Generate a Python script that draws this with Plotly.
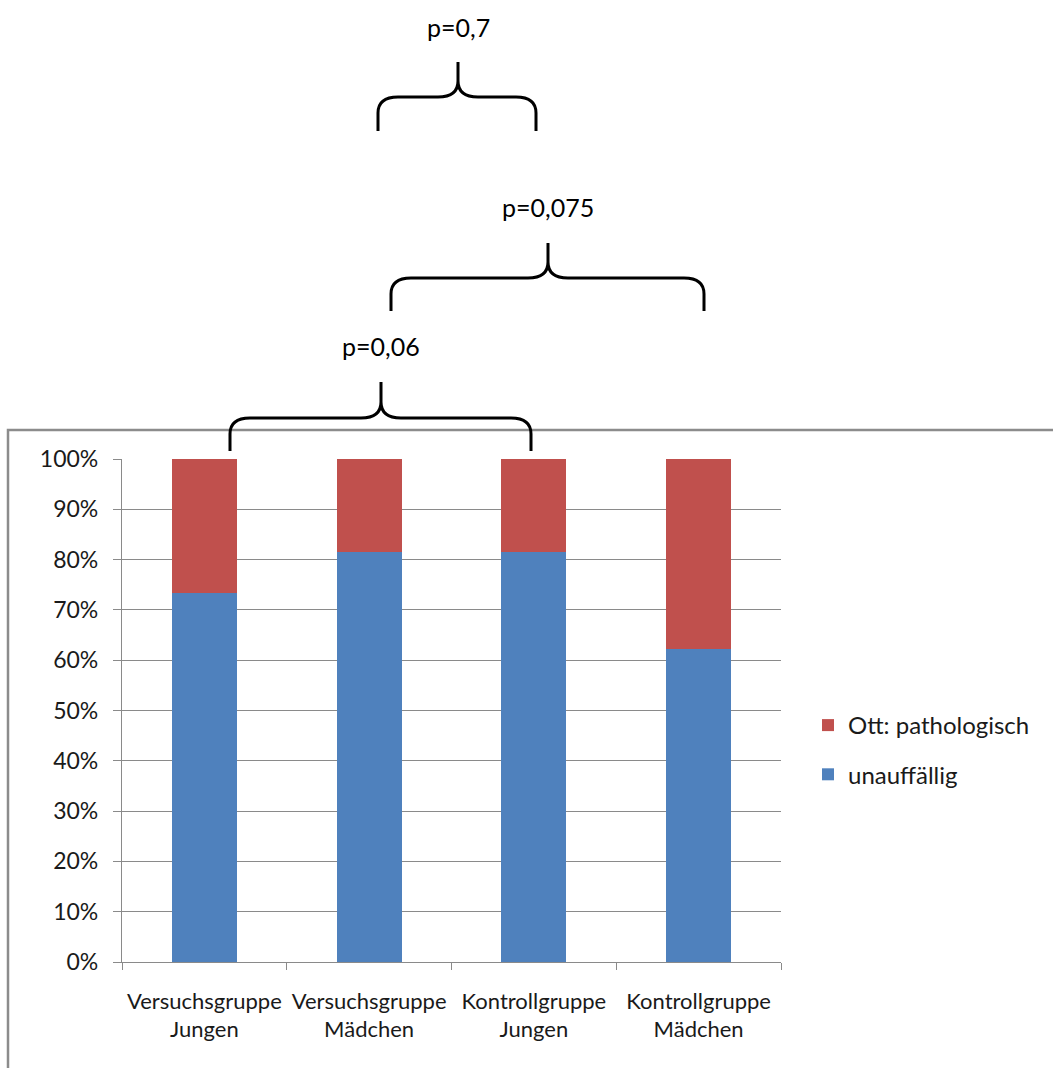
import plotly.graph_objects as go

# ---- data -------------------------------------------------------------
categories = [
    "Versuchsgruppe<br>Jungen",
    "Versuchsgruppe<br>Mädchen",
    "Kontrollgruppe<br>Jungen",
    "Kontrollgruppe<br>Mädchen",
]
unauffaellig = [0.733, 0.815, 0.815, 0.622]
pathologisch = [0.267, 0.185, 0.185, 0.378]
series_names = ["unauffällig", "Ott: pathologisch"]
p_values = ["p=0,06", "p=0,075", "p=0,7"]

# ---- page geometry (pixels) -------------------------------------------
W, H = 1053, 1068
PL, PR, PT, PB = 122, 781, 459, 962   # plot area edges
FONT = "Lato"
BLUE, RED = "#4F81BD", "#C0504D"
GRID = "#8A8A8A"
TEXT = "#1A1A1A"


def fx(px):
    return (px - PL) / (PR - PL)


def fy(py):
    return (PB - py) / (PB - PT)


def brace_path(x0, x1, xm, yb, yh, yt, r=20, rv=16):
    pts = [
        f"M{fx(x0)},{fy(yb)}",
        f"L{fx(x0)},{fy(yh + rv)}",
        f"Q{fx(x0)},{fy(yh)} {fx(x0 + r)},{fy(yh)}",
        f"L{fx(xm - r)},{fy(yh)}",
        f"Q{fx(xm)},{fy(yh)} {fx(xm)},{fy(yh - rv)}",
        f"L{fx(xm)},{fy(yt)}",
        f"M{fx(xm)},{fy(yh - rv)}",
        f"Q{fx(xm)},{fy(yh)} {fx(xm + r)},{fy(yh)}",
        f"L{fx(x1 - r)},{fy(yh)}",
        f"Q{fx(x1)},{fy(yh)} {fx(x1)},{fy(yh + rv)}",
        f"L{fx(x1)},{fy(yb)}",
    ]
    return " ".join(pts)


# brace geometry: ends, middle, base / shoulder / tip heights, label height
braces = [
    dict(x0=230, x1=531, xm=381, yb=451, yh=418, yt=382, ly=346),
    dict(x0=391, x1=704, xm=548, yb=311, yh=278, yt=243, ly=207),
    dict(x0=378, x1=536, xm=458, yb=131, yh=97, yt=62, ly=27),
]

fig = go.Figure()
fig.add_trace(go.Bar(
    x=categories, y=unauffaellig, name=series_names[0],
    marker=dict(color=BLUE, line=dict(width=0)),
    legendgroup="a", legendrank=2,
))
fig.add_trace(go.Bar(
    x=categories, y=pathologisch, name=series_names[1],
    marker=dict(color=RED, line=dict(width=0)),
    legendgroup="b", legendrank=1,
))

shapes = [
    # chart frame
    dict(type="rect", xref="paper", yref="paper",
         x0=fx(8), x1=fx(1070), y0=fy(1080), y1=fy(430),
         line=dict(color="#8C8C8C", width=2.5), layer="below"),
]
annotations = []
for b, label in zip(braces, p_values):
    shapes.append(dict(
        type="path", xref="paper", yref="paper",
        path=brace_path(b["x0"], b["x1"], b["xm"], b["yb"], b["yh"], b["yt"]),
        line=dict(color="black", width=3),
    ))
    annotations.append(dict(
        xref="paper", yref="paper", x=fx(b["xm"]), y=fy(b["ly"]),
        text=label, showarrow=False, xanchor="center", yanchor="middle",
        font=dict(family=FONT, size=25, color="black"),
    ))

fig.update_layout(
    width=W, height=H,
    margin=dict(l=PL, r=W - PR, t=PT, b=H - PB, pad=0),
    paper_bgcolor="white", plot_bgcolor="white",
    barmode="stack", bargap=0.605,
    font=dict(family=FONT, size=22, color=TEXT),
    showlegend=True,
    legend=dict(
        x=fx(808), y=fy(703), xanchor="left", yanchor="top",
        traceorder="grouped", tracegroupgap=15,
        font=dict(family=FONT, size=24, color=TEXT),
        bgcolor="rgba(0,0,0,0)",
    ),
    shapes=shapes,
    annotations=annotations,
)
fig.update_yaxes(
    range=[0, 1], dtick=0.1, tickformat=".0%",
    showgrid=True, gridcolor=GRID, gridwidth=1.2,
    showline=True, linecolor=GRID, linewidth=1.2,
    ticks="outside", ticklen=8, tickcolor=GRID, zeroline=False,
    ticklabelstandoff=10,
    tickfont=dict(family=FONT, size=23, color=TEXT),
)
fig.update_xaxes(
    showgrid=False, showline=True, linecolor=GRID, linewidth=1.2,
    ticks="outside", ticklen=7, tickcolor=GRID, tickson="boundaries",
    ticklabelstandoff=19,
    tickfont=dict(family=FONT, size=22, color=TEXT),
)

fig.write_html("out.html")
